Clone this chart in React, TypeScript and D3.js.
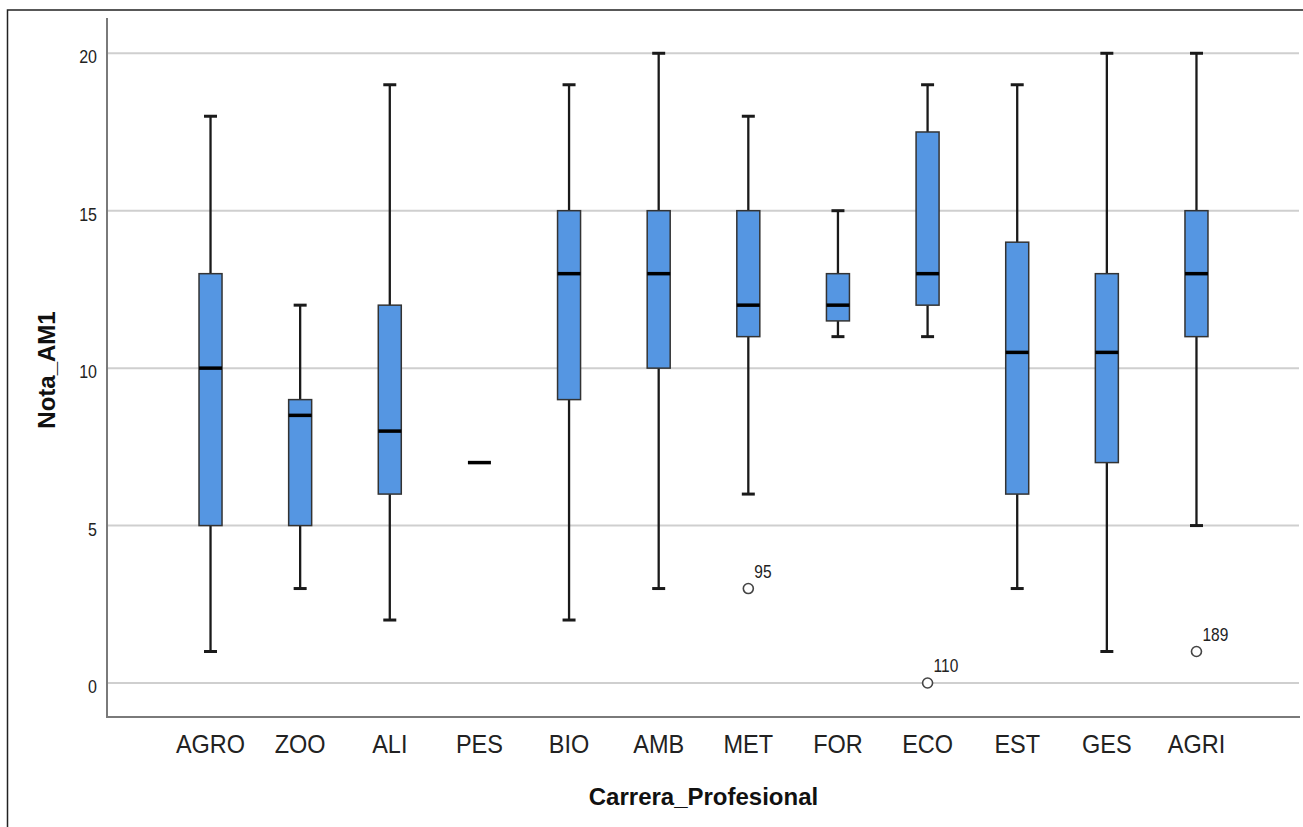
import React, { useRef, useEffect } from 'react';
import * as d3 from 'd3';

// box plot values (Nota_AM1 by Carrera_Profesional)
const categories = ['AGRO', 'ZOO', 'ALI', 'PES', 'BIO', 'AMB', 'MET', 'FOR', 'ECO', 'EST', 'GES', 'AGRI'];
const mins = [1, 3, 2, 7, 2, 3, 6, 11, 11, 3, 1, 5];
const q1s = [5, 5, 6, 7, 9, 10, 11, 11.5, 12, 6, 7, 11];
const medians = [10, 8.5, 8, 7, 13, 13, 12, 12, 13, 10.5, 10.5, 13];
const q3s = [13, 9, 12, 7, 15, 15, 15, 13, 17.5, 14, 13, 15];
const maxs = [18, 12, 19, 7, 19, 20, 18, 15, 19, 19, 20, 20];

// outliers: category, value, case number
const outlierCats = ['MET', 'ECO', 'AGRI'];
const outlierValues = [3, 0, 1];
const outlierIds = ['95', '110', '189'];

const yTicks = [0, 5, 10, 15, 20];

const FONT = 'Liberation Sans, Arial, Helvetica, sans-serif';

function BoxPlot() {
  const ref = useRef<SVGSVGElement>(null);

  useEffect(() => {
    const svg = d3.select(ref.current);
    svg.selectAll('*').remove();

    var width = 1303;
    var height = 827;
    var left = 107;
    var right = 1300;
    var top = 18;
    var bottom = 717;
    var boxW = 23;
    var capW = 13;

    var x = d3.scalePoint<string>().domain(categories).range([left, right]).padding(1.155);
    var y = d3.scaleLinear().domain([-1.08, 21.12]).range([bottom, top]);

    // outer frame (runs past the right and bottom edges)
    svg.append('rect')
      .attr('x', 7.5).attr('y', 10)
      .attr('width', width + 20).attr('height', height + 20)
      .attr('fill', 'none').attr('stroke', '#222').attr('stroke-width', 1.5);

    // gridlines
    svg.append('g')
      .selectAll('line')
      .data(yTicks)
      .enter()
      .append('line')
      .attr('x1', left).attr('x2', 1299)
      .attr('y1', d => y(d)).attr('y2', d => y(d))
      .attr('stroke', '#cfcfcf').attr('stroke-width', 2);

    // axes lines
    svg.append('line')
      .attr('x1', left).attr('x2', left).attr('y1', top).attr('y2', bottom)
      .attr('stroke', '#7a7a7a').attr('stroke-width', 2);
    svg.append('line')
      .attr('x1', left - 1).attr('x2', right).attr('y1', bottom).attr('y2', bottom)
      .attr('stroke', '#7a7a7a').attr('stroke-width', 2);

    // y tick labels (the source image is a little stretched vertically)
    svg.append('g')
      .selectAll('text')
      .data(yTicks)
      .enter()
      .append('text')
      .attr('transform', d => 'translate(97,' + (y(d) + 10) + ') scale(1,1.2)')
      .attr('text-anchor', 'end')
      .attr('font-family', FONT)
      .attr('font-size', 16)
      .attr('fill', '#222')
      .text(d => d);

    // x category labels
    svg.append('g')
      .selectAll('text')
      .data(categories)
      .enter()
      .append('text')
      .attr('transform', d => 'translate(' + x(d) + ',753) scale(1,1.08)')
      .attr('text-anchor', 'middle')
      .attr('font-family', FONT)
      .attr('font-size', 23.5)
      .attr('fill', '#222')
      .text(d => d);

    var rows = categories.map((c, i) => ({
      cat: c, min: mins[i], q1: q1s[i], med: medians[i], q3: q3s[i], max: maxs[i]
    }));

    var g = svg.append('g');
    rows.forEach(r => {
      var cx = x(r.cat) as number;
      // whiskers
      if (r.max > r.q3) {
        g.append('line').attr('x1', cx).attr('x2', cx).attr('y1', y(r.q3)).attr('y2', y(r.max))
          .attr('stroke', '#1a1a1a').attr('stroke-width', 2.3);
        g.append('line').attr('x1', cx - capW / 2).attr('x2', cx + capW / 2).attr('y1', y(r.max)).attr('y2', y(r.max))
          .attr('stroke', '#1a1a1a').attr('stroke-width', 3);
      }
      if (r.min < r.q1) {
        g.append('line').attr('x1', cx).attr('x2', cx).attr('y1', y(r.q1)).attr('y2', y(r.min))
          .attr('stroke', '#1a1a1a').attr('stroke-width', 2.3);
        g.append('line').attr('x1', cx - capW / 2).attr('x2', cx + capW / 2).attr('y1', y(r.min)).attr('y2', y(r.min))
          .attr('stroke', '#1a1a1a').attr('stroke-width', 3);
      }
      // box
      if (r.q3 > r.q1) {
        g.append('rect')
          .attr('x', cx - boxW / 2).attr('y', y(r.q3))
          .attr('width', boxW).attr('height', y(r.q1) - y(r.q3))
          .attr('fill', '#5596e2').attr('stroke', '#333').attr('stroke-width', 1.5);
      }
      // median
      g.append('line')
        .attr('x1', cx - boxW / 2).attr('x2', cx + boxW / 2)
        .attr('y1', y(r.med)).attr('y2', y(r.med))
        .attr('stroke', '#000').attr('stroke-width', 3.5);
    });

    // outliers
    var outs = outlierCats.map((c, i) => ({ cat: c, v: outlierValues[i], id: outlierIds[i] }));
    var og = svg.append('g');
    og.selectAll('circle')
      .data(outs)
      .enter()
      .append('circle')
      .attr('cx', d => x(d.cat) as number)
      .attr('cy', d => y(d.v))
      .attr('r', 5)
      .attr('fill', '#fff')
      .attr('stroke', '#444')
      .attr('stroke-width', 1.6);
    og.selectAll('text')
      .data(outs)
      .enter()
      .append('text')
      .attr('transform', d => 'translate(' + ((x(d.cat) as number) + 6) + ',' + (y(d.v) - 11) + ') scale(1,1.2)')
      .attr('font-family', FONT)
      .attr('font-size', 15.5)
      .attr('fill', '#222')
      .text(d => d.id);

    // axis titles
    svg.append('text')
      .attr('x', (left + right) / 2).attr('y', 805)
      .attr('text-anchor', 'middle')
      .attr('font-family', FONT).attr('font-weight', 'bold').attr('font-size', 24)
      .attr('fill', '#111')
      .text('Carrera_Profesional');
    svg.append('text')
      .attr('transform', 'translate(55,370) rotate(-90)')
      .attr('text-anchor', 'middle')
      .attr('font-family', FONT).attr('font-weight', 'bold').attr('font-size', 24)
      .attr('fill', '#111')
      .text('Nota_AM1');
  }, []);

  return (
    <svg
      ref={ref}
      width={1303}
      height={827}
      style={{ position: 'absolute', left: 0, top: 0, background: '#fff' }}
    />
  );
}

export default function App() {
  return <BoxPlot />;
}
